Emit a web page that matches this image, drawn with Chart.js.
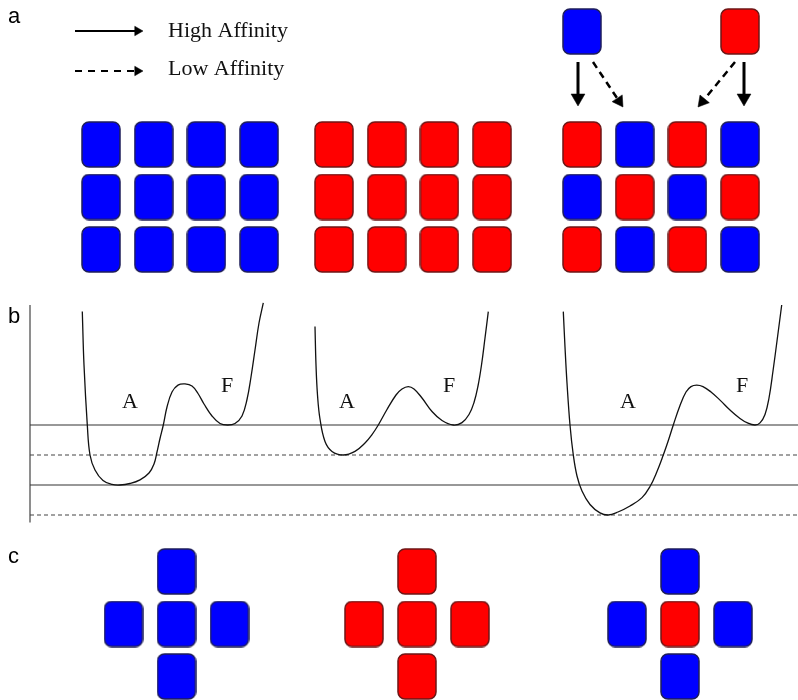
<!DOCTYPE html>
<html><head><meta charset="utf-8">
<script src="https://cdn.jsdelivr.net/npm/chart.js@4"></script>
<style>html,body{margin:0;padding:0;background:#fff;overflow:hidden}</style>
</head><body>
<canvas id="c" width="798" height="700"></canvas>
<script>
// ---------- DATA ----------
const panelLabels = ['a', 'b', 'c'];
const legendLabels = ['High Affinity', 'Low Affinity'];
const wellLabels = ['A', 'F'];

// tile patterns (B = blue, R = red)
const gridBlue  = ['BBBB', 'BBBB', 'BBBB'];
const gridRed   = ['RRRR', 'RRRR', 'RRRR'];
const gridMixed = ['RBRB', 'BRBR', 'RBRB'];
const freeTiles = ['B', 'R'];
// cross order: top, left, centre, right, bottom
const crossBlue  = ['B', 'B', 'B', 'B', 'B'];
const crossRed   = ['R', 'R', 'R', 'R', 'R'];
const crossMixed = ['B', 'B', 'R', 'B', 'B'];

// energy levels
const levelsSolid  = [0, -2];
const levelsDashed = [-1, -3];

// energy curves: horizontal coordinate and energy
const curve1X = [82.3, 84, 87.3, 90, 95, 103, 112, 120, 130, 140, 149, 154, 157, 160, 163.3, 167, 172, 178, 185, 192, 198, 204, 212, 220, 227.7, 235, 242, 247, 251, 255, 259, 263.3];
const curve1E = [3.78, 2.0, 0, -1.0, -1.5, -1.85, -1.98, -2.0, -1.95, -1.83, -1.6, -1.3, -0.9, -0.45, 0, 0.6, 1.1, 1.33, 1.37, 1.3, 1.05, 0.7, 0.3, 0.05, 0, 0.05, 0.3, 0.85, 1.6, 2.5, 3.4, 4.07];
const curve2X = [315, 316, 317.5, 320, 325, 332, 343.3, 355, 365, 372, 378.3, 386.7, 396, 402, 408.3, 414, 422, 432, 442, 453.3, 462, 469, 474, 478, 481.5, 485, 488.3];
const curve2E = [3.28, 2.0, 1.0, 0.2, -0.55, -0.88, -1.0, -0.88, -0.6, -0.32, 0, 0.5, 1.0, 1.2, 1.28, 1.2, 0.9, 0.45, 0.15, 0, 0.08, 0.35, 0.75, 1.3, 2.0, 2.9, 3.78];
const curve3X = [563.3, 565, 567, 570, 573.3, 577, 582, 590, 600, 608.3, 618, 630, 642, 650, 657, 663.3, 668, 673.3, 680, 686, 691, 696.7, 703, 711, 720, 730, 740, 748, 755, 760, 765, 769, 773, 777, 781.7];
const curve3E = [3.78, 2.6, 1.4, 0, -1.0, -1.7, -2.2, -2.65, -2.93, -3.0, -2.9, -2.7, -2.42, -2.05, -1.55, -1.0, -0.55, 0, 0.65, 1.1, 1.28, 1.33, 1.28, 1.1, 0.83, 0.5, 0.22, 0.06, 0, 0.07, 0.35, 0.9, 1.8, 2.8, 4.0];

// ---------- LAYOUT / STYLE ----------
const L = {
  W: 798, H: 700,
  tileW: 38, tileH: 45, radius: 7, pitchX: 52.7, pitchY: 52.5,
  gridLeft: [82, 315, 563], gridTop: 122,
  freeCenters: [[582, 31.5], [740, 31.5]],
  crossCenters: [[176.5, 624], [417, 624], [680, 624]], crossDX: 53, crossDY: 52.5,
  eZeroY: 425, ePerUnit: 30,
  axisX: 30, axisTopE: 4.0, axisBotE: -3.25, lineX1: 798,
  wellLabelX: [[130, 227], [347, 449], [628, 742]], labelAE: 0.57, labelFE: 1.1,
  panelLabelPos: [[8, 23], [8, 323], [8, 563]],
  legendTextX: 168, legendBase: [37, 75]
};
const COLORS = { B: ['#0000ff', '#1e1e5a'], R: ['#ff0000', '#6e1616'] };
const arrows = [
  { from: [75, 31],  to: [143, 31],  dash: [], w: 2, head: 5.5 },
  { from: [75, 71],  to: [143, 71],  dash: [7, 6], w: 2, head: 5.5 },
  { from: [578, 62], to: [578, 106], dash: [], w: 3, head: 8 },
  { from: [593, 62], to: [623, 107], dash: [7, 5], w: 2.5, head: 7 },
  { from: [735, 62], to: [698, 107], dash: [7, 5], w: 2.5, head: 7 },
  { from: [744, 62], to: [744, 106], dash: [], w: 3, head: 8 }
];

// ---------- BUILD ----------
function makeTile(fill, stroke) {
  const c = document.createElement('canvas');
  c.width = L.tileW + 2; c.height = L.tileH + 2;
  const g = c.getContext('2d');
  const x = 1, y = 1, w = L.tileW, h = L.tileH, r = L.radius;
  g.beginPath();
  g.moveTo(x + r, y); g.lineTo(x + w - r, y); g.arcTo(x + w, y, x + w, y + r, r);
  g.lineTo(x + w, y + h - r); g.arcTo(x + w, y + h, x + w - r, y + h, r);
  g.lineTo(x + r, y + h); g.arcTo(x, y + h, x, y + h - r, r);
  g.lineTo(x, y + r); g.arcTo(x, y, x + r, y, r); g.closePath();
  g.fillStyle = fill; g.fill();
  g.lineWidth = 1.5; g.strokeStyle = stroke; g.stroke();
  return c;
}
const tileImg = { B: makeTile(...COLORS.B), R: makeTile(...COLORS.R) };

const tiles = [];
[gridBlue, gridRed, gridMixed].forEach((grid, gi) => {
  grid.forEach((row, r) => {
    row.split('').forEach((c, ci) => {
      tiles.push({ x: L.gridLeft[gi] + L.tileW / 2 + ci * L.pitchX, y: L.gridTop + L.tileH / 2 + r * L.pitchY, c });
    });
  });
});
freeTiles.forEach((c, i) => tiles.push({ x: L.freeCenters[i][0], y: L.freeCenters[i][1], c }));
const crossOffsets = [[0, -1], [-1, 0], [0, 0], [1, 0], [0, 1]];
[crossBlue, crossRed, crossMixed].forEach((cross, k) => {
  cross.forEach((c, i) => {
    tiles.push({ x: L.crossCenters[k][0] + crossOffsets[i][0] * L.crossDX, y: L.crossCenters[k][1] + crossOffsets[i][1] * L.crossDY, c });
  });
});

const datasets = [];
datasets.push({
  type: 'scatter', data: tiles, yAxisID: 'y', order: 0, clip: false,
  pointStyle: ctx => tileImg[ctx.raw ? ctx.raw.c : 'B'], pointRadius: 1, borderWidth: 0, showLine: false
});

// arrows
arrows.forEach(a => {
  const dx = a.to[0] - a.from[0], dy = a.to[1] - a.from[1];
  const len = Math.hypot(dx, dy), ux = dx / len, uy = dy / len;
  const cx = a.to[0] - ux * a.head, cy = a.to[1] - uy * a.head;
  datasets.push({
    type: 'line', data: [{ x: a.from[0], y: a.from[1] }, { x: cx, y: cy }], yAxisID: 'y', order: 2,
    borderColor: '#000', borderWidth: a.w, borderDash: a.dash, pointRadius: 0, tension: 0, borderCapStyle: 'butt'
  });
  datasets.push({
    type: 'scatter', data: [{ x: cx, y: cy }], yAxisID: 'y', order: 1,
    pointStyle: 'triangle', pointRadius: a.head, pointRotation: Math.atan2(dx, -dy) * 180 / Math.PI,
    backgroundColor: '#000', borderColor: '#000', borderWidth: 0.5
  });
});

// energy levels
levelsSolid.forEach(e => datasets.push({
  type: 'line', data: [{ x: L.axisX, y: e }, { x: L.lineX1, y: e }], yAxisID: 'yE', order: 3,
  borderColor: '#333', borderWidth: 1.2, pointRadius: 0
}));
levelsDashed.forEach(e => datasets.push({
  type: 'line', data: [{ x: L.axisX, y: e }, { x: L.lineX1, y: e }], yAxisID: 'yE', order: 3,
  borderColor: '#444', borderWidth: 1.2, borderDash: [4, 3], pointRadius: 0
}));
// vertical axis
datasets.push({
  type: 'line', data: [{ x: L.axisX, y: L.axisTopE }, { x: L.axisX, y: L.axisBotE }], yAxisID: 'yE', order: 3,
  borderColor: '#444', borderWidth: 1.2, pointRadius: 0
});
// curves
[[curve1X, curve1E], [curve2X, curve2E], [curve3X, curve3E]].forEach(([xs, es]) => datasets.push({
  type: 'line', data: xs.map((x, i) => ({ x, y: es[i] })), yAxisID: 'yE', order: 2,
  borderColor: '#111', borderWidth: 1.3, pointRadius: 0, tension: 0.4
}));

const textPlugin = {
  id: 'texts',
  afterDatasetsDraw(chart) {
    const { ctx, scales } = chart;
    const X = v => scales.x.getPixelForValue(v), Y = v => scales.y.getPixelForValue(v), YE = v => scales.yE.getPixelForValue(v);
    ctx.save();
    ctx.fillStyle = '#000';
    ctx.textBaseline = 'alphabetic';
    ctx.textAlign = 'left';
    ctx.font = '22px "Liberation Sans", Arial, sans-serif';
    panelLabels.forEach((t, i) => ctx.fillText(t, X(L.panelLabelPos[i][0]), Y(L.panelLabelPos[i][1])));
    ctx.font = '22px "Liberation Serif", "Times New Roman", serif';
    ctx.fillStyle = '#111';
    legendLabels.forEach((t, i) => ctx.fillText(t, X(L.legendTextX), Y(L.legendBase[i])));
    ctx.textAlign = 'center';
    L.wellLabelX.forEach(([ax, fx]) => {
      ctx.fillText(wellLabels[0], X(ax), YE(L.labelAE));
      ctx.fillText(wellLabels[1], X(fx), YE(L.labelFE));
    });
    ctx.restore();
  }
};

new Chart(document.getElementById('c'), {
  type: 'scatter',
  data: { datasets },
  options: {
    responsive: false, animation: false, events: [],
    layout: { padding: 0, autoPadding: false },
    plugins: { legend: { display: false }, tooltip: { enabled: false } },
    scales: {
      x: { type: 'linear', min: 0, max: L.W, display: false, offset: false },
      y: { type: 'linear', min: 0, max: L.H, reverse: true, display: false },
      yE: { type: 'linear', min: -(L.H - L.eZeroY) / L.ePerUnit, max: L.eZeroY / L.ePerUnit, display: false }
    }
  },
  plugins: [textPlugin]
});
</script>
</body></html>
